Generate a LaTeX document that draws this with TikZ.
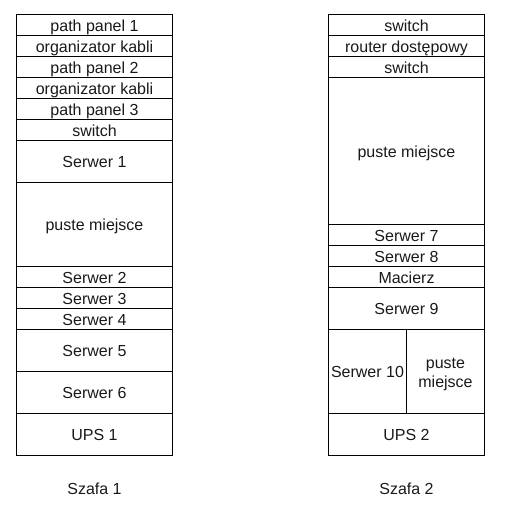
\documentclass[tikz,border=0pt]{standalone}
\usepackage{fontspec}
\setmainfont{Liberation Sans}
\begin{document}
\begin{tikzpicture}[x=1pt,y=-1pt,
  cell/.style={draw, line width=0.8pt, inner sep=0pt, minimum width=156pt,
    font=\fontsize{16}{19}\selectfont, text height=14pt, text depth=0.6pt, text=black!90},
  half/.style={cell, minimum width=78pt},
  caption/.style={inner sep=0pt, font=\fontsize{16}{19}\selectfont, text height=14pt, text depth=0.6pt, text=black!90}]
\useasboundingbox (0,0) rectangle (529,514);
% Szafa 1
\node[cell, minimum height=21pt] (a1) at (94.5,24.5) {path panel 1};
\node[cell, minimum height=21pt] (a2) at (94.5,45.5) {organizator kabli};
\node[cell, minimum height=21pt] (a3) at (94.5,66.5) {path panel 2};
\node[cell, minimum height=21pt] (a4) at (94.5,87.5) {organizator kabli};
\node[cell, minimum height=21pt] (a5) at (94.5,108.5) {path panel 3};
\node[cell, minimum height=21pt] (a6) at (94.5,129.5) {switch};
\node[cell, minimum height=42pt] (a7) at (94.5,161) {Serwer 1};
\node[cell, minimum height=84pt] (a8) at (94.5,224) {puste miejsce};
\node[cell, minimum height=21pt] (a9) at (94.5,276.5) {Serwer 2};
\node[cell, minimum height=21pt] (a10) at (94.5,297.5) {Serwer 3};
\node[cell, minimum height=21pt] (a11) at (94.5,318.5) {Serwer 4};
\node[cell, minimum height=42pt] (a12) at (94.5,350) {Serwer 5};
\node[cell, minimum height=42pt] (a13) at (94.5,392) {Serwer 6};
\node[cell, minimum height=42pt] (a14) at (94.5,434) {UPS 1};
\node[caption] (s1) at (94.5,488) {Szafa 1};
% Szafa 2
\node[cell, minimum height=21pt] (b1) at (406.5,24.5) {switch};
\node[cell, minimum height=21pt] (b2) at (406.5,45.5) {router dostępowy};
\node[cell, minimum height=21pt] (b3) at (406.5,66.5) {switch};
\node[cell, minimum height=147pt] (b4) at (406.5,150.5) {puste miejsce};
\node[cell, minimum height=21pt] (b5) at (406.5,234.5) {Serwer 7};
\node[cell, minimum height=21pt] (b6) at (406.5,255.5) {Serwer 8};
\node[cell, minimum height=21pt] (b7) at (406.5,276.5) {Macierz};
\node[cell, minimum height=42pt] (b8) at (406.5,308) {Serwer 9};
\node[half, minimum height=84pt] (b9) at (367.5,371) {Serwer 10};
\node[half, minimum height=84pt] (b10) at (445.5,371) {};
\node[inner sep=0pt, align=center, font=\fontsize{16}{19}\selectfont, text=black!90] (b10t) at (445.5,374) {puste\\miejsce};
\node[cell, minimum height=42pt] (b11) at (406.5,434) {UPS 2};
\node[caption] (s2) at (406.5,488) {Szafa 2};
\end{tikzpicture}
\end{document}
